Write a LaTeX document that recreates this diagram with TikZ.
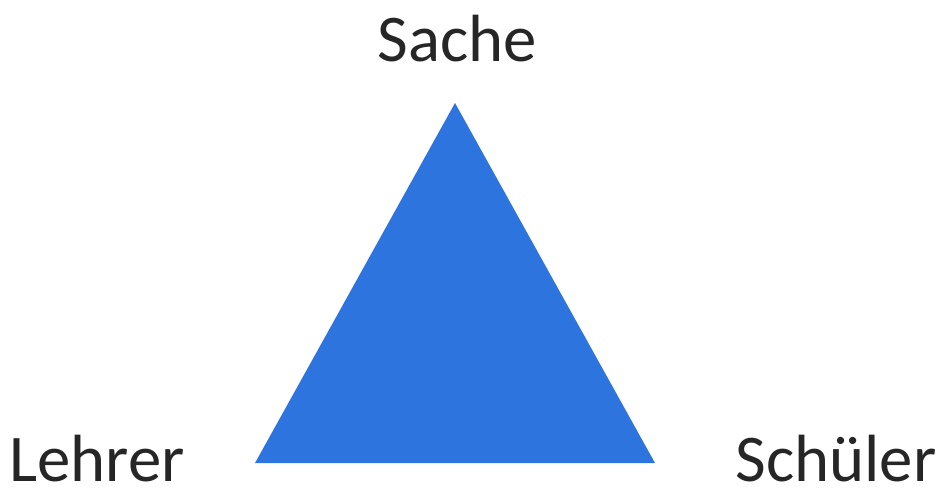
\documentclass[tikz,border=0pt]{standalone}
\usepackage{fontspec}
\setmainfont{Carlito}
\usepackage{xcolor}
\usepackage{tikz}
\usetikzlibrary{positioning}
\definecolor{triblue}{HTML}{2E74DE}

\tikzset{
  corner/.style={anchor=base, inner sep=0pt, font=\fontsize{38}{46}\selectfont, text=black!85}
}

\begin{document}
\begin{tikzpicture}[x=0.02cm, y=-0.02cm]
    \useasboundingbox (0,0) rectangle (943,490);
    % corners of the triangle
    \coordinate (top) at (455,103);
    \coordinate (left) at (255,463);
    \coordinate (right) at (655,463);
    \fill[triblue] (top) -- (left) -- (right) -- cycle;
    % labels
    \node[corner] (sache) at (457,61) {Sache};
    \node[corner] (lehrer) at (97,481) {Lehrer};
    \node[corner] (schueler) at (836,481) {Schüler};
  \end{tikzpicture}
\end{document}
